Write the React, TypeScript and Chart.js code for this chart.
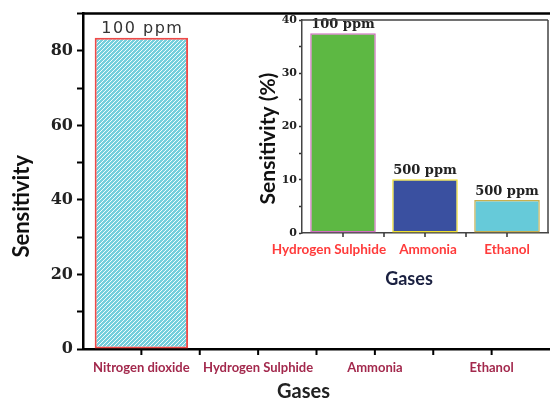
import React, { useEffect, useRef } from 'react';
import { Chart, registerables } from 'chart.js';

Chart.register(...registerables);

// ---------- data ----------
const mainCategories = ['Nitrogen dioxide', 'Hydrogen Sulphide', 'Ammonia', 'Ethanol'];
const mainValues: (number | null)[] = [83.5, null, null, null];
const mainNotes = ['100 ppm', '', '', ''];
const mainYLabelStep = 20;

const insetCategories = ['Hydrogen Sulphide', 'Ammonia', 'Ethanol'];
const insetValues = [37.5, 10.1, 6.2];
const insetNotes = ['100 ppm', '500 ppm', '500 ppm'];
const insetYLabelStep = 10;

const insetFill = ['#5db843', '#3a50a0', '#66cad9'];
const insetBorder = ['#d070c0', '#f0e030', '#c8b050'];
const insetLabelShift = [-14, 3, 0];

// ---------- plugins ----------
const framePlugin = {
  id: 'frame',
  afterDraw(chart: any, _a: any, opts: any) {
    const { ctx, chartArea: a } = chart;
    ctx.save();
    ctx.strokeStyle = opts.color || '#000';
    ctx.lineWidth = opts.width || 2;
    ctx.beginPath();
    if (opts.top) {
      ctx.moveTo(a.left - 1, a.top);
      ctx.lineTo(a.right, a.top);
    }
    if (opts.right) {
      ctx.moveTo(a.right, a.top);
      ctx.lineTo(a.right, a.bottom);
    }
    ctx.stroke();
    ctx.restore();
  },
};

const xTicksPlugin = {
  id: 'xTicks',
  afterDraw(chart: any, _a: any, opts: any) {
    const { ctx } = chart;
    const s = chart.scales.x;
    const labels = chart.data.labels;
    const n = labels.length;
    const y0 = s.top;
    ctx.save();
    ctx.strokeStyle = opts.color || '#000';
    ctx.lineWidth = opts.width || 2;
    ctx.beginPath();
    for (let i = 0; i < n; i++) {
      const p = s.getPixelForTick(i);
      ctx.moveTo(p, y0);
      ctx.lineTo(p, y0 + opts.len);
      if (i < n - 1) {
        const q = (p + s.getPixelForTick(i + 1)) / 2;
        ctx.moveTo(q, y0);
        ctx.lineTo(q, y0 + opts.minorLen);
      }
    }
    ctx.stroke();
    if (opts.labelFont) {
      ctx.font = opts.labelFont;
      ctx.fillStyle = opts.labelColor;
      ctx.textAlign = 'center';
      ctx.textBaseline = 'middle';
      for (let i = 0; i < n; i++) {
        const p = s.getPixelForTick(i) + ((opts.shift && opts.shift[i]) || 0);
        ctx.fillText(String(labels[i]), p, y0 + opts.labelDy);
      }
    }
    ctx.restore();
  },
};

const notesPlugin = {
  id: 'notes',
  afterDatasetsDraw(chart: any, _a: any, opts: any) {
    const { ctx } = chart;
    const meta = chart.getDatasetMeta(0);
    ctx.save();
    ctx.font = opts.font;
    ctx.fillStyle = opts.color;
    if (opts.spacing) (ctx as any).letterSpacing = opts.spacing;
    ctx.textAlign = 'center';
    ctx.textBaseline = 'alphabetic';
    meta.data.forEach((el: any, i: number) => {
      const t = opts.notes[i];
      if (!t || chart.data.datasets[0].data[i] == null) return;
      ctx.fillText(t, el.x + (opts.dx || 0), el.y - opts.offset);
    });
    ctx.restore();
  },
};

const titlesPlugin = {
  id: 'titles',
  afterDraw(chart: any, _a: any, opts: any) {
    const { ctx, chartArea: a } = chart;
    ctx.save();
    ctx.textAlign = 'center';
    ctx.textBaseline = 'middle';
    if (opts.x) {
      ctx.font = opts.x.font;
      ctx.fillStyle = opts.x.color;
      ctx.fillText(opts.x.text, (a.left + a.right) / 2 + opts.x.dx, a.bottom + opts.x.dy);
    }
    if (opts.y) {
      ctx.font = opts.y.font;
      ctx.fillStyle = opts.y.color;
      ctx.translate(opts.y.x, (a.top + a.bottom) / 2 + opts.y.dy);
      ctx.rotate(-Math.PI / 2);
      ctx.fillText(opts.y.text, 0, 0);
    }
    ctx.restore();
  },
};

function makeHatch(ctx: CanvasRenderingContext2D) {
  const c = document.createElement('canvas');
  c.width = 4;
  c.height = 4;
  const g = c.getContext('2d')!;
  g.fillStyle = '#74cfdc';
  g.fillRect(0, 0, 4, 4);
  g.strokeStyle = 'rgba(255,255,255,0.9)';
  g.lineWidth = 1;
  g.beginPath();
  g.moveTo(0, 4);
  g.lineTo(4, 0);
  g.moveTo(-1, 1);
  g.lineTo(1, -1);
  g.moveTo(3, 5);
  g.lineTo(5, 3);
  g.stroke();
  return ctx.createPattern(c, 'repeat');
}

export default function App() {
  const mainRef = useRef<HTMLCanvasElement>(null);
  const insetRef = useRef<HTMLCanvasElement>(null);

  useEffect(() => {
    const mctx = mainRef.current!.getContext('2d')!;
    const hatch = makeHatch(mctx);

    const main = new Chart(mctx, {
      type: 'bar',
      data: {
        labels: mainCategories,
        datasets: [
          {
            data: mainValues,
            backgroundColor: hatch as any,
            borderColor: '#f04a48',
            borderWidth: 2,
            borderSkipped: false,
            barPercentage: 0.8,
            categoryPercentage: 1,
          },
        ],
      },
      options: {
        responsive: false,
        animation: false,
        layout: { padding: { top: 13, right: 0, left: 0, bottom: 0 } },
        plugins: {
          legend: { display: false },
          tooltip: { enabled: false },
          frame: { top: true, right: false, color: '#000', width: 2.5 },
          xTicks: { len: 6, minorLen: 6, color: '#000', width: 2 },
          notes: { notes: mainNotes, font: '16px "DejaVu Sans"', color: '#333', offset: 5, spacing: '1.5px', dx: 1 },
          titles: {
            x: { text: 'Gases', font: 'bold 20px Lato', color: '#222', dx: -13, dy: 43 },
            y: { text: 'Sensitivity', font: 'bold 22px Lato', color: '#111', x: 22, dy: 25 },
          },
        } as any,
        scales: {
          x: {
            type: 'category',
            offset: true,
            grid: { display: false },
            border: { display: true, color: '#000', width: 2.5 },
            ticks: {
              color: '#a3294d',
              font: { family: 'Lato', size: 13, weight: 'bold' },
              padding: 3,
              maxRotation: 0,
              autoSkip: false,
            },
            afterFit: (s: any) => {
              s.height = 56;
            },
          },
          y: {
            min: 0,
            max: 90,
            grid: {
              display: true,
              drawOnChartArea: false,
              drawTicks: true,
              tickLength: 6,
              tickWidth: 2,
              tickColor: '#000',
            },
            border: { display: true, color: '#000', width: 2.5 },
            ticks: {
              stepSize: 10,
              color: '#222',
              font: { family: '"DejaVu Serif"', size: 16, weight: 'bold' },
              padding: 4,
              callback: (v: any) => (Number(v) % mainYLabelStep === 0 ? String(v) : ''),
            },
            afterFit: (s: any) => {
              s.width = 83;
            },
          },
        },
      },
      plugins: [framePlugin, xTicksPlugin, notesPlugin, titlesPlugin],
    });

    const ictx = insetRef.current!.getContext('2d')!;
    const inset = new Chart(ictx, {
      type: 'bar',
      data: {
        labels: insetCategories,
        datasets: [
          {
            data: insetValues,
            backgroundColor: insetFill,
            borderColor: insetBorder,
            borderWidth: 1.5,
            borderSkipped: false,
            barPercentage: 0.8,
            categoryPercentage: 1,
          },
        ],
      },
      options: {
        responsive: false,
        animation: false,
        layout: { padding: { top: 20, right: 2, left: 0, bottom: 0 } },
        plugins: {
          legend: { display: false },
          tooltip: { enabled: false },
          frame: { top: true, right: true, color: '#444', width: 1.5 },
          xTicks: {
            len: 4,
            minorLen: 4,
            color: '#333',
            width: 1.5,
            labelFont: 'bold 13.5px Lato',
            labelColor: '#ff3b3b',
            labelDy: 17,
            shift: insetLabelShift,
          },
          notes: { notes: insetNotes, font: 'bold 13px "DejaVu Serif"', color: '#222', offset: 5 },
          titles: {
            x: { text: 'Gases', font: 'bold 18px Lato', color: '#1a2040', dx: -16, dy: 46 },
            y: { text: 'Sensitivity (%)', font: 'bold 21px Lato', color: '#111', x: 18, dy: 12 },
          },
        } as any,
        scales: {
          x: {
            type: 'category',
            offset: true,
            grid: { display: false },
            border: { display: true, color: '#444', width: 1.5 },
            ticks: { display: false },
            afterFit: (s: any) => {
              s.height = 67;
            },
          },
          y: {
            min: 0,
            max: 40,
            grid: {
              display: true,
              drawOnChartArea: false,
              drawTicks: true,
              tickLength: 3,
              tickWidth: 1.5,
              tickColor: '#333',
            },
            border: { display: true, color: '#444', width: 1.5 },
            ticks: {
              stepSize: 5,
              color: '#222',
              font: { family: '"DejaVu Serif"', size: 11, weight: 'bold' },
              padding: 2,
              callback: (v: any) => (Number(v) % insetYLabelStep === 0 ? String(v) : ''),
            },
            afterFit: (s: any) => {
              s.width = 52;
            },
          },
        },
      },
      plugins: [framePlugin, xTicksPlugin, notesPlugin, titlesPlugin],
    });

    return () => {
      main.destroy();
      inset.destroy();
    };
  }, []);

  return (
    <div style={{ position: 'fixed', left: 0, top: 0, width: 550, height: 405, background: '#fff' }}>
      <canvas ref={mainRef} width={550} height={405} style={{ position: 'absolute', left: 0, top: 0 }} />
      <canvas ref={insetRef} width={300} height={300} style={{ position: 'absolute', left: 250, top: 0 }} />
    </div>
  );
}
